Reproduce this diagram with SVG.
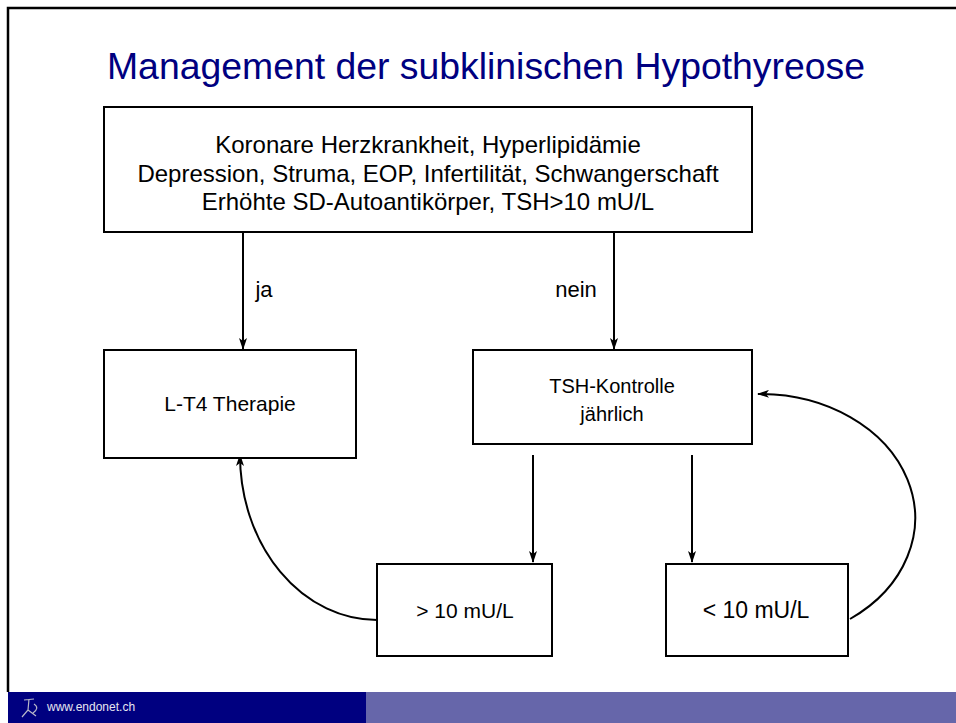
<svg xmlns="http://www.w3.org/2000/svg" width="956" height="723" viewBox="0 0 956 723">
<defs>
<style>
.box{fill:#fff;stroke:#000;stroke-width:2}
.t{font-family:"Liberation Sans",Arial,sans-serif;font-size:21px;fill:#000;text-anchor:middle}
.big{font-size:24px}
.c{fill:none;stroke:#000;stroke-width:2}
</style>
<marker id="ah" viewBox="0 0 12 8" refX="11" refY="4" markerWidth="12" markerHeight="8" markerUnits="userSpaceOnUse" orient="auto">
<path d="M0,0 L12,4 L0,8 L3,4 z" fill="#000"/>
</marker>
</defs>
<rect width="956" height="723" fill="#fff"/>
<path d="M8,692 V8 H956" fill="none" stroke="#000" stroke-width="2.5"/>
<rect x="8" y="692" width="358" height="31" fill="#000080"/>
<rect x="366" y="692" width="590" height="31" fill="#6666aa"/>
<g fill="none" stroke="#b8b8c8" stroke-width="1.2">
<path d="M24,700 L34,699 M29,699 L28,710 L22,717 M28,710 L36,716 M34,704 Q40,708 33,713"/>
</g>
<text x="47" y="711" font-family="'Liberation Sans',Arial,sans-serif" font-size="12" fill="#e6e6f0">www.endonet.ch</text>
<text x="486" y="79" font-family="'Liberation Sans',Arial,sans-serif" font-size="36" fill="#000080" text-anchor="middle" textLength="758" lengthAdjust="spacingAndGlyphs">Management der subklinischen Hypothyreose</text>
<g id="connectors">
<path class="c" d="M243,232 V349" marker-end="url(#ah)"/>
<path class="c" d="M614,232 V349" marker-end="url(#ah)"/>
<path class="c" d="M533,455 V562" marker-end="url(#ah)"/>
<path class="c" d="M692,455 V562" marker-end="url(#ah)"/>
<path class="c" d="M377,620 A137,165 0 0 1 240,455" marker-end="url(#ah)"/>
<path class="c" d="M850,619 A155,124 0 0 0 758,394" marker-end="url(#ah)"/>
<text class="t" x="264" y="297" style="font-size:22px">ja</text>
<text class="t" x="576" y="297" style="font-size:22px">nein</text>
</g>
<g id="n_criteria">
<rect class="box" x="104" y="107" width="648" height="125"/>
<text class="t big" x="428" y="153">Koronare Herzkrankheit, Hyperlipidämie</text>
<text class="t big" x="428" y="182">Depression, Struma, EOP, Infertilität, Schwangerschaft</text>
<text class="t big" x="428" y="210">Erhöhte SD-Autoantikörper, TSH&gt;10 mU/L</text>
</g>
<g id="n_lt4">
<rect class="box" x="104" y="350" width="252" height="108"/>
<text class="t" x="230" y="411">L-T4 Therapie</text>
</g>
<g id="n_tsh">
<rect class="box" x="473" y="350" width="279" height="94"/>
<text class="t" x="612" y="393" style="font-size:20px">TSH-Kontrolle</text>
<text class="t" x="612" y="421" style="font-size:20px">jährlich</text>
</g>
<g id="n_gt10">
<rect class="box" x="377" y="564" width="175" height="92"/>
<text class="t" x="465" y="618">&gt; 10 mU/L</text>
</g>
<g id="n_lt10">
<rect class="box" x="666" y="564" width="182" height="92"/>
<text class="t" x="756" y="618" style="font-size:23px">&lt; 10 mU/L</text>
</g>
</svg>
